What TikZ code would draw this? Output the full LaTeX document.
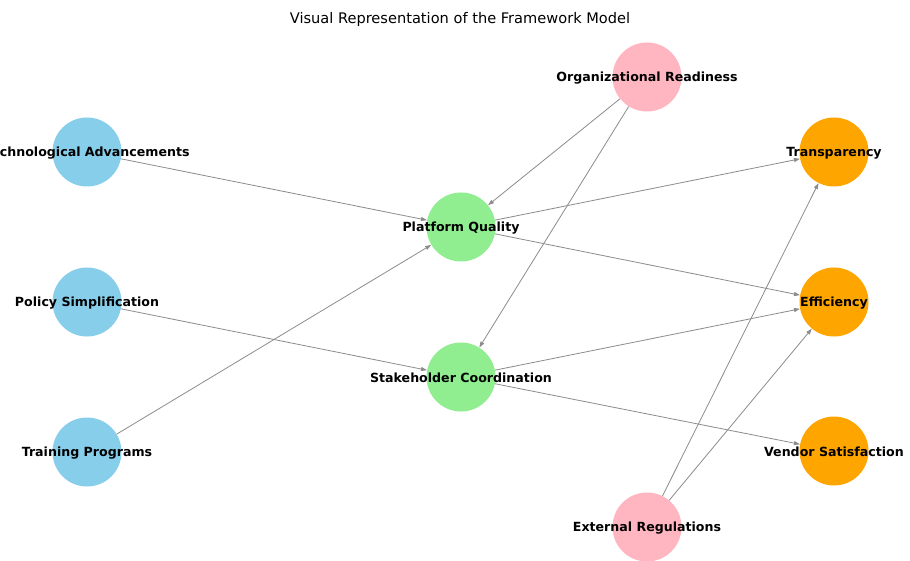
\documentclass[tikz,border=0pt]{standalone}
\usepackage{fontspec}
\setmainfont{DejaVu Sans}
\usetikzlibrary{arrows.meta}

\definecolor{skyblue}{RGB}{135,206,235}
\definecolor{lightgreen}{RGB}{144,238,144}
\definecolor{lightpink}{RGB}{255,182,193}
\definecolor{orangefill}{RGB}{255,165,0}

\begin{document}
\begin{tikzpicture}[x=1pt,y=-1pt,
    factor/.style={circle, minimum size=69pt, inner sep=0pt},
    factortext/.style={font=\fontsize{12.6}{14}\selectfont\bfseries, inner sep=0pt},
    link/.style={-{Triangle[length=6pt,width=4pt]}, draw=gray!90, line width=0.8pt}]
    \clip (0,0) rectangle (910,561);
    \fill[white] (0,0) rectangle (910,561);
    \node(title) [font=\fontsize{14.6}{17}\selectfont] at (460,19) {Visual Representation of the Framework Model};
    % input factors
    \node(tech) [factor, fill=skyblue] at (87,152) {};
    \node(policy) [factor, fill=skyblue] at (87,302) {};
    \node(training) [factor, fill=skyblue] at (87,452) {};
    % mediators
    \node(platform) [factor, fill=lightgreen] at (461,227) {};
    \node(coord) [factor, fill=lightgreen] at (461,377) {};
    % moderators
    \node(orgready) [factor, fill=lightpink] at (647,77) {};
    \node(extreg) [factor, fill=lightpink] at (647,527) {};
    % outcomes
    \node(transp) [factor, fill=orangefill] at (834,152) {};
    \node(effic) [factor, fill=orangefill] at (834,302) {};
    \node(vendor) [factor, fill=orangefill] at (834,451) {};
    \draw[link] (tech) -- (platform);
    \draw[link] (policy) -- (coord);
    \draw[link] (training) -- (platform);
    \draw[link] (orgready) -- (platform);
    \draw[link] (orgready) -- (coord);
    \draw[link] (extreg) -- (transp);
    \draw[link] (extreg) -- (effic);
    \draw[link] (platform) -- (transp);
    \draw[link] (platform) -- (effic);
    \draw[link] (coord) -- (effic);
    \draw[link] (coord) -- (vendor);
    % labels
    \node(techtxt) [factortext] at ([yshift=-1pt]tech) {Technological Advancements};
    \node(policytxt) [factortext] at ([yshift=-1pt]policy) {Policy Simplification};
    \node(trainingtxt) [factortext] at ([yshift=-1pt]training) {Training Programs};
    \node(platformtxt) [factortext] at ([yshift=-1pt]platform) {Platform Quality};
    \node(coordtxt) [factortext] at ([yshift=-1pt]coord) {Stakeholder Coordination};
    \node(orgreadytxt) [factortext] at ([yshift=-1pt]orgready) {Organizational Readiness};
    \node(extregtxt) [factortext] at ([yshift=-1pt]extreg) {External Regulations};
    \node(transptxt) [factortext] at ([yshift=-1pt]transp) {Transparency};
    \node(effictxt) [factortext] at ([yshift=-1pt]effic) {Efficiency};
    \node(vendortxt) [factortext] at ([yshift=-1pt]vendor) {Vendor Satisfaction};
\end{tikzpicture}
\end{document}
